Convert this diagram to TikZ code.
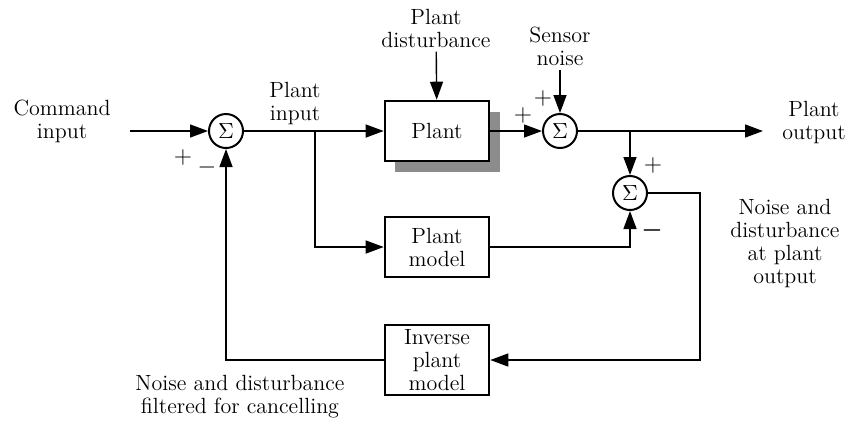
\documentclass[tikz,border=0pt]{standalone}
\usepackage{amsmath,amssymb}
\usepackage{tikz}
\usetikzlibrary{arrows.meta, shapes, shadows}

\tikzset{
	block/.style={draw, line width=1.3pt, fill=white, minimum width=52pt, minimum height=30pt, align=center, inner sep=1pt},
	sumnode/.style={draw, circle, line width=1pt, fill=white, minimum size=17pt, inner sep=0pt},
	label/.style={align=center, inner sep=2pt},
	sign/.style={inner sep=0pt, font=\large},
	arr/.style={-{Triangle[length=9pt,width=6.5pt]}, line width=0.7pt},
}

\begin{document}
\begin{tikzpicture}[x=0.5pt, y=-0.5pt, font=\fontsize{11}{11.5}\selectfont]
	\useasboundingbox (0,0) rectangle (846,420);
	% blocks
	\fill[black!45] (395,112) rectangle (500,172);
	\node[block] (plant) at (437,131) {Plant};
	\node[block] (model) at (437,247) {Plant\\model};
	\node[block, minimum height=35pt] (inverse) at (437,360) {Inverse\\plant\\model};
	\node[sumnode] (sumin) at (226,131) {$\Sigma$};
	\node[sumnode] (sumout) at (560,131) {$\Sigma$};
	\node[sumnode] (sumerr) at (630,193) {$\Sigma$};
	% texts
	\node[label] (cmd) at (62,121) {Command\\input};
	\node[label] (plantin) at (295,103) {Plant\\input};
	\node[label] (dist) at (436,28) {Plant\\disturbance};
	\node[label] (sensor) at (560,46) {Sensor\\noise};
	\node[label] (out) at (814,122) {Plant\\output};
	\node[label] (noise) at (785,243) {Noise and\\disturbance\\at plant\\output};
	\node[label] (filtered) at (240,397) {Noise and disturbance\\filtered for cancelling};
	% signs
	\node[sign] at (183,157) {$+$};
	\node[sign] at (207,167) {$-$};
	\node[sign] at (543,98) {$+$};
	\node[sign] at (523,115) {$+$};
	\node[sign] at (653,165) {$+$};
	\node[sign] at (652,230) {$\boldsymbol{-}$};
	% connectors
	\coordinate (cmdstart) at (130,131);
	\coordinate (split1) at (315,131);
	\coordinate (split2) at (630,131);
	\coordinate (outend) at (763,131);
	\coordinate (corner) at (700,193);
	\draw[arr] (cmdstart) -- (sumin);
	\draw[arr] (sumin) -- (plant);
	\draw[arr] (split1) |- (model);
	\draw[arr] (plant.east) -- (sumout);
	\draw[arr] (sumout) -- (outend);
	\draw[arr] (split2) -- (sumerr);
	\draw[arr] (model) -| (sumerr);
	\draw[arr] (sumerr) -- (corner) |- (inverse);
	\draw[arr] (inverse) -| (sumin);
	\draw[arr] (dist) -- (plant);
	\draw[arr] (sensor) -- (sumout);
\end{tikzpicture}
\end{document}
